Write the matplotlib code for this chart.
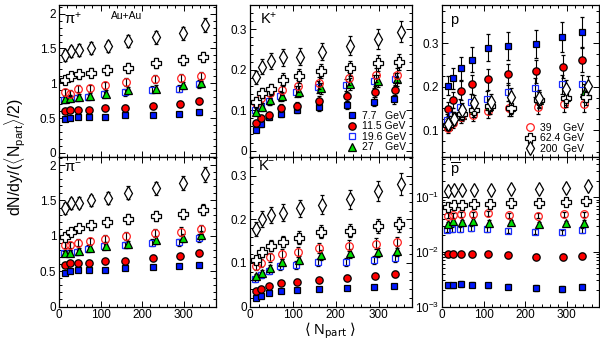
import matplotlib
matplotlib.use("Agg")
import matplotlib.pyplot as plt
from matplotlib.ticker import MultipleLocator, LogLocator, NullFormatter

# Beam energies (GeV) and legend labels
energies = [7.7, 11.5, 19.6, 27, 39, 62.4, 200]
labels = ["7.7   GeV", "11.5 GeV", "19.6 GeV", "27    GeV",
          "39    GeV", "62.4 GeV", "200  GeV"]

# <Npart> per centrality bin (peripheral -> central), one row per energy
npart = [
    [14, 26, 45, 73, 110, 160, 226, 290, 337],
    [14, 26, 45, 73, 110, 160, 226, 291, 338],
    [12, 25, 44, 71, 108, 158, 224, 289, 338],
    [14, 27, 47, 75, 114, 166, 234, 299, 343],
    [14, 26, 46, 74, 111, 162, 230, 294, 342],
    [15, 28, 48, 77, 115, 165, 233, 298, 347],
    [15, 29, 48, 78, 117, 167, 234, 298, 352],
]

# dN/dy / (<Npart>/2), one row per energy
pi_plus = [
    [0.48, 0.50, 0.51, 0.51, 0.52, 0.54, 0.55, 0.56, 0.58],
    [0.60, 0.61, 0.61, 0.61, 0.64, 0.65, 0.67, 0.70, 0.75],
    [0.76, 0.78, 0.79, 0.80, 0.84, 0.87, 0.91, 0.92, 0.99],
    [0.77, 0.79, 0.80, 0.82, 0.85, 0.90, 0.92, 0.97, 1.00],
    [0.87, 0.85, 0.92, 0.93, 0.97, 1.02, 1.06, 1.07, 1.10],
    [1.04, 1.10, 1.13, 1.15, 1.19, 1.22, 1.29, 1.33, 1.38],
    [1.40, 1.46, 1.48, 1.51, 1.53, 1.61, 1.66, 1.72, 1.84],
]
pi_minus = [
    [0.48, 0.50, 0.52, 0.52, 0.52, 0.54, 0.56, 0.57, 0.59],
    [0.59, 0.61, 0.61, 0.62, 0.64, 0.65, 0.69, 0.71, 0.76],
    [0.75, 0.76, 0.77, 0.82, 0.85, 0.87, 0.90, 0.91, 0.97],
    [0.75, 0.76, 0.79, 0.83, 0.86, 0.88, 0.94, 0.97, 1.01],
    [0.87, 0.87, 0.90, 0.92, 0.96, 1.00, 1.04, 1.06, 1.09],
    [0.98, 1.05, 1.11, 1.15, 1.19, 1.24, 1.28, 1.31, 1.37],
    [1.39, 1.46, 1.47, 1.50, 1.53, 1.61, 1.67, 1.75, 1.87],
]
k_plus = [
    [0.051, 0.065, 0.084, 0.091, 0.101, 0.109, 0.113, 0.121, 0.127],
    [0.068, 0.080, 0.088, 0.105, 0.110, 0.123, 0.134, 0.146, 0.150],
    [0.101, 0.110, 0.124, 0.135, 0.146, 0.157, 0.162, 0.171, 0.177],
    [0.096, 0.109, 0.125, 0.134, 0.146, 0.154, 0.164, 0.172, 0.177],
    [0.119, 0.129, 0.143, 0.150, 0.160, 0.168, 0.179, 0.187, 0.187],
    [0.121, 0.142, 0.152, 0.175, 0.185, 0.197, 0.204, 0.216, 0.220],
    [0.181, 0.208, 0.222, 0.231, 0.232, 0.245, 0.259, 0.275, 0.294],
]
k_minus = [
    [0.019, 0.024, 0.032, 0.036, 0.038, 0.040, 0.042, 0.045, 0.047],
    [0.036, 0.040, 0.046, 0.053, 0.057, 0.061, 0.066, 0.071, 0.074],
    [0.063, 0.073, 0.082, 0.092, 0.095, 0.101, 0.103, 0.107, 0.111],
    [0.069, 0.076, 0.088, 0.101, 0.107, 0.118, 0.122, 0.124, 0.127],
    [0.092, 0.099, 0.113, 0.120, 0.126, 0.134, 0.139, 0.144, 0.147],
    [0.107, 0.124, 0.139, 0.149, 0.158, 0.172, 0.174, 0.185, 0.189],
    [0.177, 0.200, 0.210, 0.215, 0.225, 0.234, 0.246, 0.265, 0.282],
]
proton = [
    [0.202, 0.219, 0.242, 0.262, 0.290, 0.294, 0.298, 0.314, 0.325],
    [0.148, 0.169, 0.191, 0.205, 0.217, 0.228, 0.235, 0.246, 0.262],
    [0.123, 0.135, 0.154, 0.165, 0.172, 0.188, 0.198, 0.205, 0.205],
    [0.109, 0.127, 0.135, 0.146, 0.155, 0.154, 0.169, 0.177, 0.185],
    [0.104, 0.117, 0.131, 0.135, 0.144, 0.150, 0.154, 0.159, 0.159],
    [0.112, 0.127, 0.138, 0.146, 0.155, 0.150, 0.169, 0.173, 0.177],
    [0.115, 0.125, 0.146, 0.162, 0.165, 0.177, 0.173, 0.194, 0.202],
]
antiproton = [
    [0.00247, 0.00247, 0.0026, 0.0025, 0.00247, 0.0023, 0.0022, 0.0021, 0.0023],
    [0.0091, 0.0093, 0.0091, 0.0091, 0.0091, 0.0087, 0.0082, 0.0081, 0.0084],
    [0.0254, 0.026, 0.026, 0.027, 0.026, 0.0244, 0.0233, 0.0227, 0.025],
    [0.032, 0.036, 0.035, 0.037, 0.034, 0.035, 0.032, 0.033, 0.034],
    [0.046, 0.047, 0.049, 0.049, 0.051, 0.047, 0.046, 0.049, 0.049],
    [0.065, 0.072, 0.072, 0.075, 0.075, 0.078, 0.078, 0.081, 0.083],
    [0.127, 0.133, 0.133, 0.133, 0.133, 0.138, 0.138, 0.147, 0.157],
]

# relative uncertainty per particle species
rel_err = {"pip": 0.055, "pim": 0.055, "kp": 0.09, "km": 0.09, "p": 0.11, "pbar": 0.11}

# marker, face colour, edge colour, size for each energy
styles = [
    ("s", "#0018ff", "k", 4.8),
    ("o", "#ff0000", "k", 5.3),
    ("s", "none", "#1a2cff", 5.0),
    ("^", "#00e000", "k", 5.8),
    ("o", "none", "#ff2020", 5.5),
    ("P", "white", "k", 6.5),
    ("d", "white", "k", 7.2),
]

plt.rcParams.update({
    "font.family": ["Liberation Sans", "DejaVu Sans"],
    "mathtext.fontset": "custom",
    "mathtext.rm": "Liberation Sans",
    "mathtext.it": "Liberation Sans:italic",
    "mathtext.sf": "Liberation Sans",
    "xtick.direction": "in",
    "ytick.direction": "in",
    "xtick.top": True,
    "ytick.right": True,
    "xtick.labelsize": 8.5,
    "ytick.labelsize": 8.5,
    "xtick.major.size": 4,
    "ytick.major.size": 4,
    "xtick.minor.size": 2,
    "ytick.minor.size": 2,
    "xtick.major.width": 0.7,
    "ytick.major.width": 0.7,
    "xtick.minor.width": 0.7,
    "ytick.minor.width": 0.7,
    "axes.linewidth": 0.9,
})

W, H = 600.0, 344.0
fig = plt.figure(figsize=(6.0, 3.44), dpi=100)


def rect(x0, x1, y0, y1):
    # pixel box -> figure fraction
    return [x0 / W, 1 - y1 / H, (x1 - x0) / W, (y1 - y0) / H]


cols = [(59, 216), (250, 412), (442, 599)]
rows = [(5, 157), (157, 306.5)]

ax_pip = fig.add_axes(rect(*cols[0], *rows[0]))
ax_pim = fig.add_axes(rect(*cols[0], *rows[1]))
ax_kp = fig.add_axes(rect(*cols[1], *rows[0]))
ax_km = fig.add_axes(rect(*cols[1], *rows[1]))
ax_p = fig.add_axes(rect(*cols[2], *rows[0]))
ax_pb = fig.add_axes(rect(*cols[2], *rows[1]))


def draw(ax, data, key):
    handles = []
    for i in range(len(energies)):
        m, fc, ec, ms = styles[i]
        yv = data[i]
        err = [v * rel_err[key] for v in yv]
        cont = ax.errorbar(npart[i], yv, yerr=err, fmt=m, ms=ms, mfc=fc, mec=ec,
                           mew=0.9, ecolor="k", elinewidth=0.8, capsize=1.2,
                           capthick=0.8, zorder=3 + i)
        handles.append(cont[0])
    return handles


h = draw(ax_pip, pi_plus, "pip")
draw(ax_pim, pi_minus, "pim")
draw(ax_kp, k_plus, "kp")
draw(ax_km, k_minus, "km")
draw(ax_p, proton, "p")
draw(ax_pb, antiproton, "pbar")

for ax in [ax_pip, ax_pim, ax_kp, ax_km, ax_p, ax_pb]:
    ax.set_xlim(0, 378)
    ax.xaxis.set_major_locator(MultipleLocator(100))
    ax.xaxis.set_minor_locator(MultipleLocator(20))
    ax.tick_params(axis="both", which="both", pad=2)
for ax in [ax_pip, ax_kp, ax_p]:
    ax.tick_params(labelbottom=False)

# pions
for ax in [ax_pip, ax_pim]:
    ax.yaxis.set_major_locator(MultipleLocator(0.5))
    ax.yaxis.set_minor_locator(MultipleLocator(0.1))
    ax.yaxis.set_major_formatter(lambda v, p: f"{v:g}")
ax_pip.set_ylim(-0.06, 2.125)
ax_pim.set_ylim(0, 2.115)

# kaons
for ax in [ax_kp, ax_km]:
    ax.yaxis.set_major_locator(MultipleLocator(0.1))
    ax.yaxis.set_minor_locator(MultipleLocator(0.02))
    ax.yaxis.set_major_formatter(lambda v, p: f"{v:g}")
ax_kp.set_ylim(-0.0156, 0.36)
ax_km.set_ylim(0, 0.343)

# protons
ax_p.set_ylim(0.038, 0.388)
ax_p.yaxis.set_major_locator(MultipleLocator(0.1))
ax_p.yaxis.set_minor_locator(MultipleLocator(0.025))
ax_p.yaxis.set_major_formatter(lambda v, p: f"{v:g}")

ax_pb.set_yscale("log")
ax_pb.set_ylim(1e-3, 0.54)
ax_pb.yaxis.set_major_locator(LogLocator(base=10))
ax_pb.yaxis.set_minor_locator(LogLocator(base=10, subs=range(2, 10)))
ax_pb.yaxis.set_minor_formatter(NullFormatter())

# particle labels
tkw = dict(fontsize=10.5, va="top", ha="left")
ax_pip.text(0.03, 0.965, "π$^{+}$", transform=ax_pip.transAxes, **tkw)
ax_pim.text(0.03, 0.975, "π$^{-}$", transform=ax_pim.transAxes, **tkw)
ax_kp.text(0.06, 0.965, "K$^{+}$", transform=ax_kp.transAxes, **tkw)
ax_km.text(0.05, 0.985, "K$^{-}$", transform=ax_km.transAxes, **tkw)
ax_p.text(0.05, 0.95, "p", transform=ax_p.transAxes, **tkw)
ax_pb.text(0.05, 0.975, r"$\overline{\mathrm{p}}$", transform=ax_pb.transAxes, **tkw)
ax_pip.text(0.43, 0.93, "Au+Au", transform=ax_pip.transAxes, fontsize=7.5,
            ha="center", va="center")

# legends
lkw = dict(frameon=False, fontsize=7.5, handlelength=1.0, handletextpad=0.4,
           labelspacing=0.05, borderpad=0, borderaxespad=0, loc="lower left")
ax_kp.legend(h[:4], labels[:4], bbox_to_anchor=(0.6, 0.03), **lkw)
ax_p.legend(h[4:], labels[4:], bbox_to_anchor=(0.53, 0.02), **lkw)

fig.text(15 / W, 1 - 157 / H, r"dN/dy/($\langle$N$_{\rm part}\rangle$/2)",
         rotation=90, ha="center", va="center", fontsize=11.5)
fig.text(330 / W, 1 - 334 / H, r"$\langle$ N$_{\rm part}$ $\rangle$",
         ha="center", va="baseline", fontsize=10.5, math_fontfamily="dejavusans")

fig.savefig("out.png", dpi=100)
